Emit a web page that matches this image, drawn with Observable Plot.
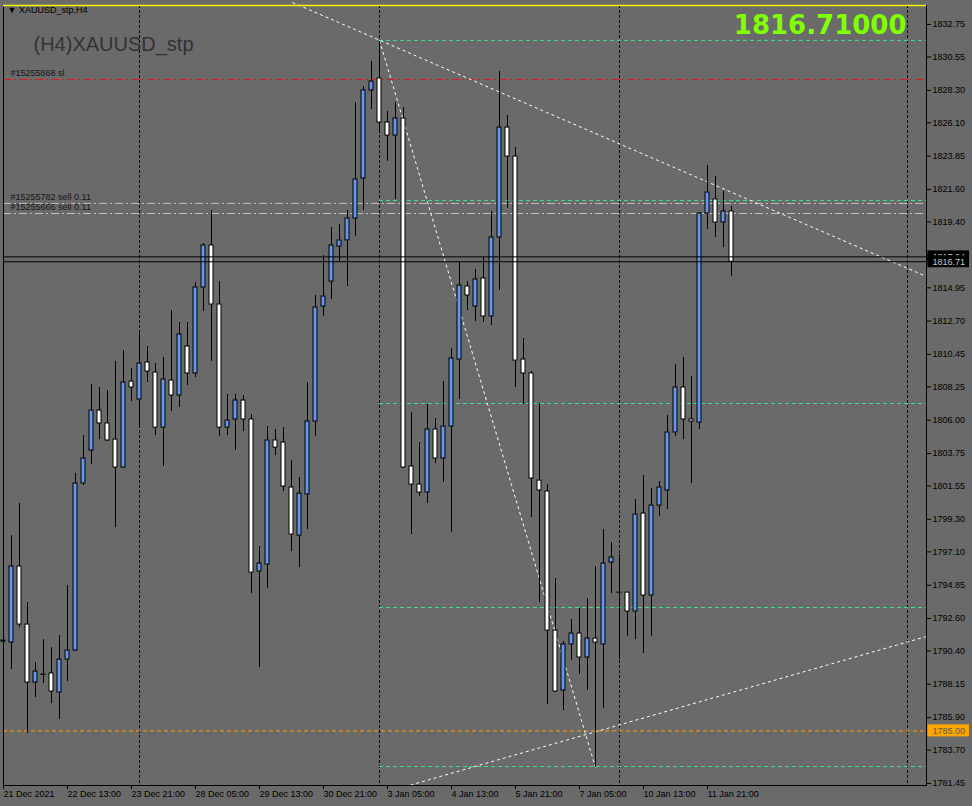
<!DOCTYPE html>
<html><head><meta charset="utf-8">
<script src="https://cdn.jsdelivr.net/npm/d3@7"></script>
<script src="https://cdn.jsdelivr.net/npm/@observablehq/plot@0.6"></script>
<style>
html,body{margin:0;padding:0;background:#6a6a6a;}
#chart svg{display:block;}
</style></head><body><div id="chart"></div>
<script>
// ---- data (H4 XAUUSD candles, bar index 0..91) ----
const opens = [1791.04,1790.97,1796.11,1792.19,1788.27,1788.81,1788.88,1787.59,1789.82,1790.43,
1801.72,1803.95,1806.65,1805.78,1804.69,1802.80,1808.61,1807.40,1809.90,1809.22,
1805.50,1808.68,1807.67,1810.98,1809.16,1814.97,1817.81,1813.82,1805.50,1806.05,
1807.33,1806.05,1795.77,1796.24,1804.63,1804.49,1801.45,1798.20,1800.98,1805.91,
1813.68,1815.37,1817.74,1818.15,1819.63,1822.34,1828.29,1829.10,1826.12,1825.24,
1826.39,1802.87,1801.65,1801.11,1805.37,1803.41,1805.57,1810.10,1815.04,1813.68,
1815.58,1813.01,1818.35,1825.78,1823.82,1810.10,1809.16,1801.92,1801.18,1791.78,
1787.73,1790.84,1791.58,1789.96,1791.24,1790.84,1796.38,1794.35,1794.35,1793.07,
1799.69,1794.15,1800.23,1801.25,1805.17,1808.21,1806.05,1805.84,1819.97,1820.92,
1819.36,1820.11];
const highs = [1793.34,1798.20,1800.37,1793.67,1789.62,1791.17,1790.63,1791.44,1794.82,1802.40,
1804.96,1808.41,1808.21,1808.01,1809.97,1810.71,1809.49,1811.93,1810.98,1809.83,
1810.24,1813.41,1812.60,1812.60,1815.31,1817.94,1820.17,1815.37,1807.74,1807.74,
1807.67,1806.38,1797.46,1805.57,1805.37,1805.50,1803.27,1802.12,1808.55,1814.43,
1817.13,1819.02,1819.23,1820.17,1827.47,1828.56,1830.25,1831.60,1826.87,1827.47,
1827.14,1806.52,1804.49,1807.06,1806.11,1808.61,1810.85,1816.66,1815.37,1816.19,
1817.06,1820.11,1829.57,1826.60,1824.43,1811.52,1809.29,1807.13,1801.65,1795.30,
1791.04,1792.53,1793.27,1793.95,1796.11,1798.61,1797.73,1796.92,1794.35,1800.64,
1802.26,1801.38,1801.85,1806.32,1809.76,1810.24,1808.95,1820.04,1823.22,1822.47,
1821.46,1820.44];
const lows = [1788.81,1789.15,1791.98,1784.82,1787.25,1788.20,1786.85,1785.77,1788.33,1790.36,
1801.58,1803.00,1804.69,1804.56,1798.74,1802.73,1807.26,1805.64,1808.55,1804.96,
1802.87,1806.59,1806.86,1808.34,1808.88,1813.35,1809.97,1804.90,1804.96,1803.95,
1805.23,1794.28,1789.28,1794.62,1803.61,1801.18,1797.12,1796.04,1798.61,1804.90,
1813.01,1814.16,1816.66,1815.04,1818.42,1820.17,1827.00,1825.45,1823.49,1820.92,
1802.73,1798.27,1800.84,1800.37,1803.07,1801.79,1798.41,1807.40,1813.41,1812.67,
1812.60,1812.40,1814.77,1820.31,1808.21,1807.06,1799.42,1793.67,1786.78,1787.59,
1786.37,1789.75,1788.81,1787.73,1782.52,1786.51,1794.28,1789.82,1791.38,1791.17,
1790.23,1791.38,1799.49,1799.96,1804.90,1804.69,1801.72,1805.37,1818.89,1818.35,
1817.67,1815.71];
const closes = [1791.11,1796.11,1792.19,1788.27,1789.01,1788.78,1787.66,1789.82,1790.43,1801.72,
1803.41,1806.65,1805.78,1804.63,1802.80,1808.55,1808.21,1809.83,1809.29,1805.50,
1808.75,1807.67,1811.79,1809.16,1814.97,1817.81,1813.82,1805.50,1805.98,1807.33,
1806.05,1795.70,1796.31,1804.63,1804.15,1801.52,1798.27,1801.04,1805.91,1813.62,
1814.36,1817.81,1818.15,1819.63,1822.27,1828.29,1828.89,1826.12,1825.24,1826.39,
1802.80,1801.65,1801.11,1805.37,1803.41,1805.57,1810.17,1815.10,1814.43,1815.51,
1813.01,1818.35,1825.78,1823.82,1810.03,1809.16,1802.06,1801.25,1791.78,1787.66,
1790.84,1791.58,1789.96,1791.24,1790.97,1796.31,1796.72,1794.33,1793.07,1799.62,
1794.15,1800.23,1801.45,1805.17,1808.21,1806.05,1805.91,1819.97,1821.39,1819.36,
1820.11,1816.71];

const xTickBars = [0,8,16,24,32,40,48,56,64,72,80,88];
const xTickLabels = ["21 Dec 2021","22 Dec 13:00","23 Dec 21:00","28 Dec 05:00","29 Dec 13:00","30 Dec 21:00",
  "3 Jan 05:00","4 Jan 13:00","5 Jan 21:00","7 Jan 05:00","10 Jan 13:00","11 Jan 21:00"];
const yTickValues = [1832.75,1830.55,1828.30,1826.10,1823.85,1821.60,1819.40,1817.15,1814.95,1812.70,
  1810.45,1808.25,1806.00,1803.75,1801.55,1799.30,1797.10,1794.85,1792.60,1790.40,1788.15,1785.90,1783.70,1781.45];

const separatorBars = [17,47,77,113];
const levelPrices = [1831.67,1820.85,1807.13,1793.34,1782.59];   // green dashed levels
const levelStartBar = 47;
const slPrices = [1829.03];
const orderPrices = [1820.65,1819.97];
const orderLabelText = ["#15255868 sl","#15255782 sell 0.11","#15255666 sell 0.11"];
const orderLabelPrice = [1829.03,1820.65,1819.97];
const alertPrice = [1785.00];
const bidAskPrices = [1817.04,1816.71];
const trendX1 = [36.125,47,50.875];
const trendY1 = [1834.23,1831.67,1781.34];
const trendX2 = [115.375,74,115.375];
const trendY2 = [1815.71,1782.52,1791.38];
const currentPriceText = "1816.71000";
const titleText = "(H4)XAUUSD_stp";
const windowText = "▼ XAUUSD_stp,H4";

// ---- derived tables ----
const bars = d3.range(opens.length).map(i => ({i, o: opens[i], h: highs[i], l: lows[i], c: closes[i]}));
const xMax = 115.375;
const yDomain = [1781.31, 1834.03];
const tags = [
  {p: bidAskPrices[0], bg: "#000000", fg: "#c8c8c8"},
  {p: bidAskPrices[1], bg: "#000000", fg: "#c8c8c8"},
  {p: alertPrice[0], bg: "#ffa500", fg: "#5a5a5a"}
];
const trends = trendX1.map((x, k) => ({x1: x, y1: trendY1[k], x2: trendX2[k], y2: trendY2[k]}));
const orderLabels = orderLabelText.map((t, k) => ({t, p: orderLabelPrice[k]}));

// each price tag: box then its text, so later tags cover earlier ones
const tagMarks = tags.flatMap(t => [
  Plot.rect([t], {x1: 115.55, x2: 120.75, y1: d => d.p - 0.405, y2: d => d.p + 0.405, fill: t.bg}),
  Plot.text([t], {x: xMax, y: "p", text: d => d.p.toFixed(2), dx: 6, textAnchor: "start", fill: t.fg, fontSize: 9})
]);

const bull = "#6495ed";
const chart = Plot.plot({
  width: 972, height: 806,
  marginLeft: 3, marginRight: 46, marginTop: 5, marginBottom: 21,
  x: {domain: [0, xMax], axis: null},
  y: {domain: yDomain, axis: null},
  style: {background: "#6a6a6a", fontFamily: "Liberation Sans, Arial, sans-serif", fontSize: "9px", color: "black"},
  marks: [
    Plot.ruleX(separatorBars, {stroke: "black", strokeDasharray: "3,2"}),
    Plot.ruleY(slPrices, {stroke: "#d42020", strokeDasharray: "8,3,2,3"}),
    Plot.ruleY(orderPrices, {stroke: "#c0c0c0", strokeDasharray: "8,3,2,3"}),
    Plot.ruleY(alertPrice, {stroke: "#ffa500", strokeDasharray: "4,3"}),
    Plot.ruleY(levelPrices, {x1: levelStartBar, x2: xMax, stroke: "#3fe08c", strokeDasharray: "4,3"}),
    Plot.link(trends, {x1: "x1", y1: "y1", x2: "x2", y2: "y2", stroke: "white", strokeDasharray: "3,3"}),
    Plot.ruleX(bars, {x: "i", y1: "l", y2: "h", stroke: "black"}),
    Plot.rect(bars.filter(d => d.c >= d.o), {x1: d => d.i - 0.25, x2: d => d.i + 0.25, y1: "o", y2: "c", fill: bull, stroke: "black"}),
    Plot.rect(bars.filter(d => d.c < d.o), {x1: d => d.i - 0.25, x2: d => d.i + 0.25, y1: "o", y2: "c", fill: "white", stroke: "black"}),
    Plot.ruleY(bidAskPrices, {stroke: "black"}),
    Plot.frame({stroke: "black"}),
    Plot.ruleY([yDomain[1]], {stroke: "#f5f500", strokeWidth: 1.5}),
    Plot.axisX({ticks: xTickBars, tickFormat: d => xTickLabels[xTickBars.indexOf(d)], tickSize: 4, tickPadding: 1,
      textAnchor: "start", fontSize: 9, fill: "black", stroke: "black", label: null}),
    Plot.axisY({anchor: "right", ticks: yTickValues, tickFormat: d => d.toFixed(2), tickSize: 4, tickPadding: 2,
      fontSize: 9, fill: "black", stroke: "black", label: null}),
    ...tagMarks,
    Plot.text(orderLabels, {x: 0.875, y: "p", text: "t", dy: -6, textAnchor: "start", fill: "#151515", fontSize: 9}),
    Plot.text([windowText], {text: d => d, frameAnchor: "top-left", dx: 4, dy: 1, lineAnchor: "top", fontSize: 9, fill: "black"}),
    Plot.text([titleText], {text: d => d, frameAnchor: "top-left", dx: 30, dy: 45, lineAnchor: "bottom", textAnchor: "start", fontSize: 20, fill: "#333333"}),
    Plot.text([currentPriceText], {text: d => d, frameAnchor: "top-right", dx: -20, dy: 28, lineAnchor: "bottom", textAnchor: "end",
      fontSize: 26, fontWeight: "bold", fontFamily: "DejaVu Sans", fill: "#7fff00"})
  ]
});
document.getElementById("chart").appendChild(chart);
</script></body></html>
